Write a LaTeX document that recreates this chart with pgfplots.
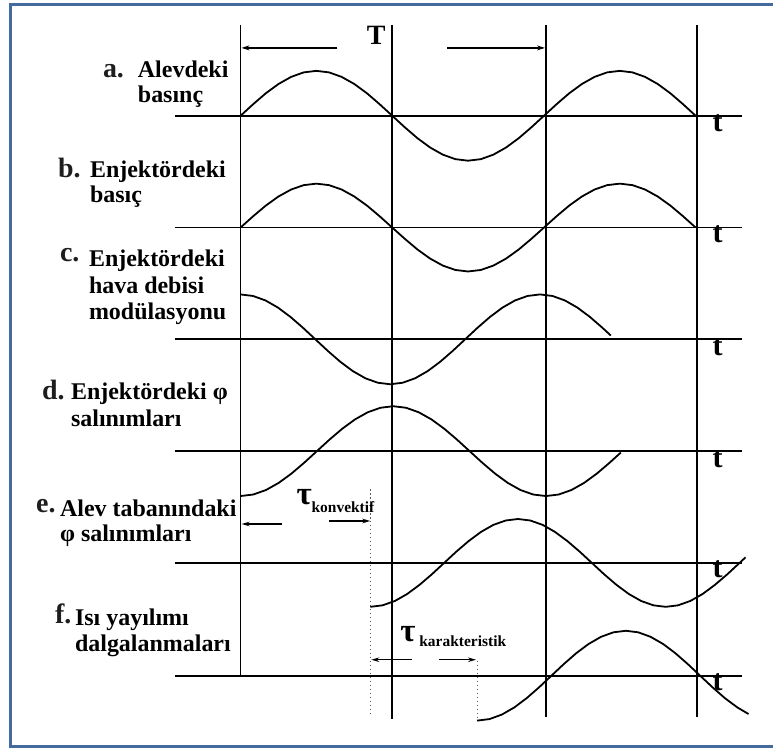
\documentclass[border=0pt]{standalone}
\usepackage{pgfplots}
\pgfplotsset{compat=1.18}
\usetikzlibrary{arrows.meta}
\usepackage{fontspec}
\setmainfont{Liberation Serif}
\definecolor{frameblue}{RGB}{68,106,158}
\definecolor{inkgray}{RGB}{30,30,30}

\newcommand{\lbl}[1]{{\fontsize{24}{26}\selectfont\bfseries #1}}
\newcommand{\tag}[1]{{\fontsize{28}{30}\selectfont\bfseries\color{inkgray}#1}}
\newcommand{\tlab}{{\fontsize{30}{30}\selectfont\bfseries t}}

\begin{document}
\begin{tikzpicture}
\begin{axis}[
  scale only axis, width=774pt, height=749pt,
  xmin=0, xmax=774, ymin=0, ymax=749, y dir=reverse,
  hide axis, clip=false,
  every axis plot/.append style={line join=round},
  base/.style={black, line width=1.8pt},
  wave/.style={black, line width=1.8pt},
  guide/.style={gray!70!black, line width=1pt, dash pattern=on 1.5pt off 2.5pt},
]
\path (axis cs:0,0) rectangle (axis cs:774,749);

% frame
\addplot[frameblue, line width=3pt, line join=miter] coordinates {(774,4.5) (10.5,4.5) (10.5,747.5) (774,747.5)};

% time axes of the six signals
\addplot[base] coordinates {(175,116) (743,116)};
\addplot[base] coordinates {(175,228) (743,228)};
\addplot[base] coordinates {(175,340) (743,340)};
\addplot[base] coordinates {(175,452) (743,452)};
\addplot[base] coordinates {(175,564) (743,564)};
\addplot[base] coordinates {(175,677) (743,677)};

% period markers
\addplot[base] coordinates {(241,25) (241,677)};
\addplot[base] coordinates {(393,25) (393,720)};
\addplot[base] coordinates {(547,25) (547,718)};
\addplot[base] coordinates {(698,25) (698,718)};

% delay guides
\addplot[guide] coordinates {(371,490) (371,718)};
\addplot[guide] coordinates {(478,662) (478,722)};

% a. flame pressure
\addplot[wave] coordinates {
(241.0,116) (253.7,104.35) (266.3,93.5) (279.0,84.18) (291.7,77.03) (304.3,72.53)
(317.0,71) (329.7,72.53) (342.3,77.03) (355.0,84.18) (367.7,93.5) (380.3,104.35)
(393.0,116) (405.7,127.65) (418.3,138.5) (431.0,147.82) (443.7,154.97) (456.3,159.47)
(469.0,161) (481.7,159.47) (494.3,154.97) (507.0,147.82) (519.7,138.5) (532.3,127.65)
(545.0,116) (557.7,104.35) (570.3,93.5) (583.0,84.18) (595.7,77.03) (608.3,72.53)
(621.0,71) (633.7,72.53) (646.3,77.03) (659.0,84.18) (671.7,93.5) (684.3,104.35)
(697.0,116)};

% b. injector pressure
\addplot[wave] coordinates {
(241.0,228) (253.7,216.61) (266.3,206) (279.0,196.89) (291.7,189.89) (304.3,185.5)
(317.0,184) (329.7,185.5) (342.3,189.89) (355.0,196.89) (367.7,206) (380.3,216.61)
(393.0,228) (405.7,239.39) (418.3,250) (431.0,259.11) (443.7,266.11) (456.3,270.5)
(469.0,272) (481.7,270.5) (494.3,266.11) (507.0,259.11) (519.7,250) (532.3,239.39)
(545.0,228) (557.7,216.61) (570.3,206) (583.0,196.89) (595.7,189.89) (608.3,185.5)
(621.0,184) (633.7,185.5) (646.3,189.89) (659.0,196.89) (671.7,206) (684.3,216.61)
(697.0,228)};

% c. injector air flow modulation
\addplot[wave] coordinates {
(241.0,295) (253.5,296.53) (266.0,301.03) (278.5,308.18) (291.0,317.5) (303.5,328.35)
(316.0,340) (328.5,351.65) (341.0,362.5) (353.5,371.82) (366.0,378.97) (378.5,383.47)
(391.0,385) (403.5,383.47) (416.0,378.97) (428.5,371.82) (441.0,362.5) (453.5,351.65)
(466.0,340) (478.5,328.35) (491.0,317.5) (503.5,308.18) (516.0,301.03) (528.5,296.53)
(541.0,295) (553.5,296.53) (566.0,301.03) (578.5,308.18) (591.0,317.5) (603.5,328.35)
(612.0,336.2)};

% d. equivalence ratio at the injector
\addplot[wave] coordinates {
(241.0,497) (253.75,495.47) (266.5,490.97) (279.25,483.82) (292.0,474.5) (304.75,463.65)
(317.5,452) (330.25,440.35) (343.0,429.5) (355.75,420.18) (368.5,413.03) (381.25,408.53)
(394.0,407) (406.75,408.53) (419.5,413.03) (432.25,420.18) (445.0,429.5) (457.75,440.35)
(470.5,452) (483.25,463.65) (496.0,474.5) (508.75,483.82) (521.5,490.97) (534.25,495.47)
(547.0,497) (559.75,495.47) (572.5,490.97) (585.25,483.82) (598.0,474.5) (610.75,463.65)
(622.0,453.4)};

% e. equivalence ratio at the flame base
\addplot[wave] coordinates {
(371.0,608) (383.3,606.5) (395.7,602.11) (408.0,595.11) (420.3,586) (432.7,575.39)
(445.0,564) (457.3,552.61) (469.7,542) (482.0,532.89) (494.3,525.89) (506.7,521.5)
(519.0,520) (531.3,521.5) (543.7,525.89) (556.0,532.89) (568.3,542) (580.7,552.61)
(593.0,564) (605.3,575.39) (617.7,586) (630.0,595.11) (642.3,602.11) (654.7,606.5)
(667.0,608) (679.3,606.5) (691.7,602.11) (704.0,595.11) (716.3,586) (728.7,575.39)
(741.0,564) (747.0,558.4)};

% f. heat release fluctuations
\addplot[wave] coordinates {
(478.0,722) (490.4,720.47) (502.8,715.97) (515.3,708.82) (527.7,699.5) (540.1,688.65)
(552.5,677) (564.9,665.35) (577.3,654.5) (589.8,645.18) (602.2,638.03) (614.6,633.53)
(627.0,632) (639.4,633.53) (651.8,638.03) (664.3,645.18) (676.7,654.5) (689.1,665.35)
(701.5,677) (713.9,688.65) (726.3,699.5) (738.8,708.82) (750.0,715.4)};

% period arrow
\draw[line width=1.8pt, -{Stealth[length=8pt,width=5pt]}] (axis cs:338,48) -- (axis cs:242,48);
\draw[line width=1.8pt, -{Stealth[length=8pt,width=5pt]}] (axis cs:448,48) -- (axis cs:546,48);
\node[anchor=base, inner sep=0pt] at (axis cs:377,45) {\fontsize{28}{28}\selectfont\bfseries T};

% convective delay
\draw[line width=1.5pt, -{Stealth[length=8pt,width=4.5pt]}] (axis cs:283,525) -- (axis cs:242,525);
\draw[line width=1.5pt, -{Stealth[length=8pt,width=4.5pt]}] (axis cs:330,522) -- (axis cs:371,522);
\node[anchor=base west, inner sep=0pt] at (axis cs:297,505) {\fontsize{33}{33}\selectfont\bfseries τ};
\node[anchor=base west, inner sep=0pt] at (axis cs:312,513) {\fontsize{15.5}{16}\selectfont\bfseries konvektif};

% characteristic delay
\draw[line width=1.5pt, -{Stealth[length=8pt,width=4.5pt]}] (axis cs:413,661) -- (axis cs:372,661);
\draw[line width=1.5pt, -{Stealth[length=8pt,width=4.5pt]}] (axis cs:440,661) -- (axis cs:477,661);
\node[anchor=base west, inner sep=0pt] at (axis cs:401,643) {\fontsize{33}{33}\selectfont\bfseries τ};
\node[anchor=base west, inner sep=0pt] at (axis cs:420,648) {\fontsize{15.5}{16}\selectfont\bfseries karakteristik};

% time labels
\node[anchor=base, inner sep=0pt] at (axis cs:719,132) {\tlab};
\node[anchor=base, inner sep=0pt] at (axis cs:719,243) {\tlab};
\node[anchor=base, inner sep=0pt] at (axis cs:719,356) {\tlab};
\node[anchor=base, inner sep=0pt] at (axis cs:719,468) {\tlab};
\node[anchor=base, inner sep=0pt] at (axis cs:719,579) {\tlab};
\node[anchor=base, inner sep=0pt] at (axis cs:719,692) {\tlab};

% signal names
\node[anchor=base west, inner sep=0pt] at (axis cs:103,78) {\tag{a.}};
\node[anchor=base west, inner sep=0pt] at (axis cs:138,78) {\lbl{Alevdeki}};
\node[anchor=base west, inner sep=0pt] at (axis cs:138,103) {\lbl{basınç}};

\node[anchor=base west, inner sep=0pt] at (axis cs:58,178) {\tag{b.}};
\node[anchor=base west, inner sep=0pt] at (axis cs:90,178) {\lbl{Enjektördeki}};
\node[anchor=base west, inner sep=0pt] at (axis cs:90,203) {\lbl{basıç}};

\node[anchor=base west, inner sep=0pt] at (axis cs:60,262) {\tag{c.}};
\node[anchor=base west, inner sep=0pt] at (axis cs:89,267) {\lbl{Enjektördeki}};
\node[anchor=base west, inner sep=0pt] at (axis cs:89,294) {\lbl{hava debisi}};
\node[anchor=base west, inner sep=0pt] at (axis cs:89,320) {\lbl{modülasyonu}};

\node[anchor=base west, inner sep=0pt] at (axis cs:42,400) {\tag{d.}};
\node[anchor=base west, inner sep=0pt] at (axis cs:71,400) {\lbl{Enjektördeki φ}};
\node[anchor=base west, inner sep=0pt] at (axis cs:71,427) {\lbl{salınımları}};

\node[anchor=base west, inner sep=0pt] at (axis cs:36,513) {\tag{e.}};
\node[anchor=base west, inner sep=0pt] at (axis cs:60,517) {\lbl{Alev tabanındaki}};
\node[anchor=base west, inner sep=0pt] at (axis cs:60,543) {\lbl{φ salınımları}};

\node[anchor=base west, inner sep=0pt] at (axis cs:55,625) {\tag{f.}};
\node[anchor=base west, inner sep=0pt] at (axis cs:75,627) {\lbl{Isı yayılımı}};
\node[anchor=base west, inner sep=0pt] at (axis cs:75,653) {\lbl{dalgalanmaları}};
\end{axis}
\end{tikzpicture}
\end{document}
